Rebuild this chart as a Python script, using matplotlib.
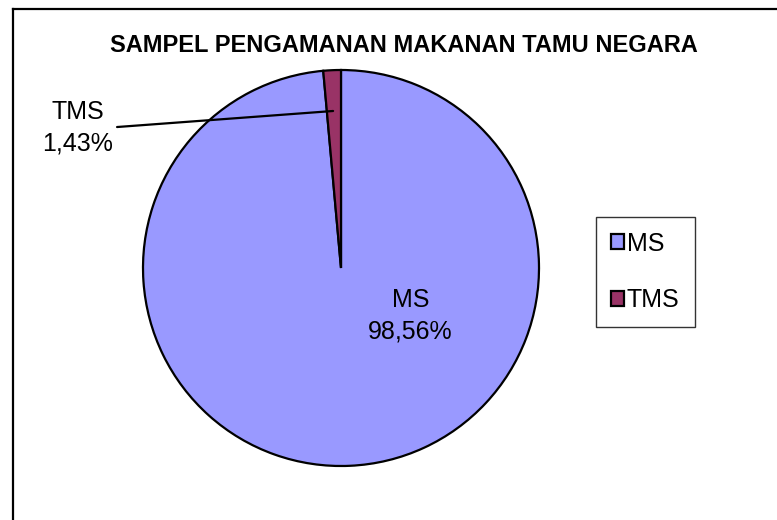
import matplotlib.pyplot as plt
from matplotlib.patches import Patch
from matplotlib.lines import Line2D

# data
labels = ["MS", "TMS"]
values = [98.56, 1.43]
colors = ["#9999FF", "#993366"]
title = "SAMPEL PENGAMANAN MAKANAN TAMU NEGARA"

plt.rcParams["font.family"] = ["Liberation Sans", "DejaVu Sans"]

W, H = 777, 520
fig = plt.figure(figsize=(W / 100, H / 100), dpi=100)

# outer chart border (only left and top are visible in the crop)
fig.add_artist(Line2D([13 / W, 13 / W], [0, 1 - 9 / H], color="black", lw=1.6))
fig.add_artist(Line2D([13 / W, 1], [1 - 9 / H, 1 - 9 / H], color="black", lw=1.6))

# pie axes: center (341, 268), radius 198 px
cx, cy, r = 341, 268, 198
ax = fig.add_axes([(cx - r) / W, (H - cy - r) / H, 2 * r / W, 2 * r / H])
ax.pie(values, colors=colors, startangle=90, counterclock=False,
       wedgeprops=dict(edgecolor="black", linewidth=1.6))
ax.set_xlim(-1, 1)
ax.set_ylim(-1, 1)
ax.set_aspect("equal")
ax.axis("off")

def pct(v):
    return str(v).replace(".", ",") + "%"

# data labels
ax.text(0.35, -0.24, f"{labels[0]}\n{pct(values[0])}",
        ha="center", va="center", fontsize=18, linespacing=1.4)
ax.text(-1.33, 0.71, f"{labels[1]}\n{pct(values[1])}",
        ha="center", va="center", fontsize=18, linespacing=1.4)
# leader line for the small slice
ax.annotate("", xy=(-0.04, 0.793), xytext=(-1.131, 0.712),
            arrowprops=dict(arrowstyle="-", color="black", lw=1.6,
                            shrinkA=0, shrinkB=0),
            annotation_clip=False)

fig.text(404 / W, 1 - 46 / H, title, ha="center", va="center",
         fontsize=17, fontweight="bold")

handles = [Patch(facecolor=c, edgecolor="black", linewidth=1.6) for c in colors]
leg = fig.legend(handles, labels, loc="center", bbox_to_anchor=(645 / W, 1 - 272 / H),
                 fontsize=18, frameon=True, fancybox=False, handlelength=0.55,
                 handleheight=0.55, handletextpad=0.1, labelspacing=1.3,
                 borderpad=0.6, borderaxespad=0)
leg.get_frame().set_edgecolor("black")
leg.get_frame().set_linewidth(1.0)

fig.savefig("out.png", dpi=100)
